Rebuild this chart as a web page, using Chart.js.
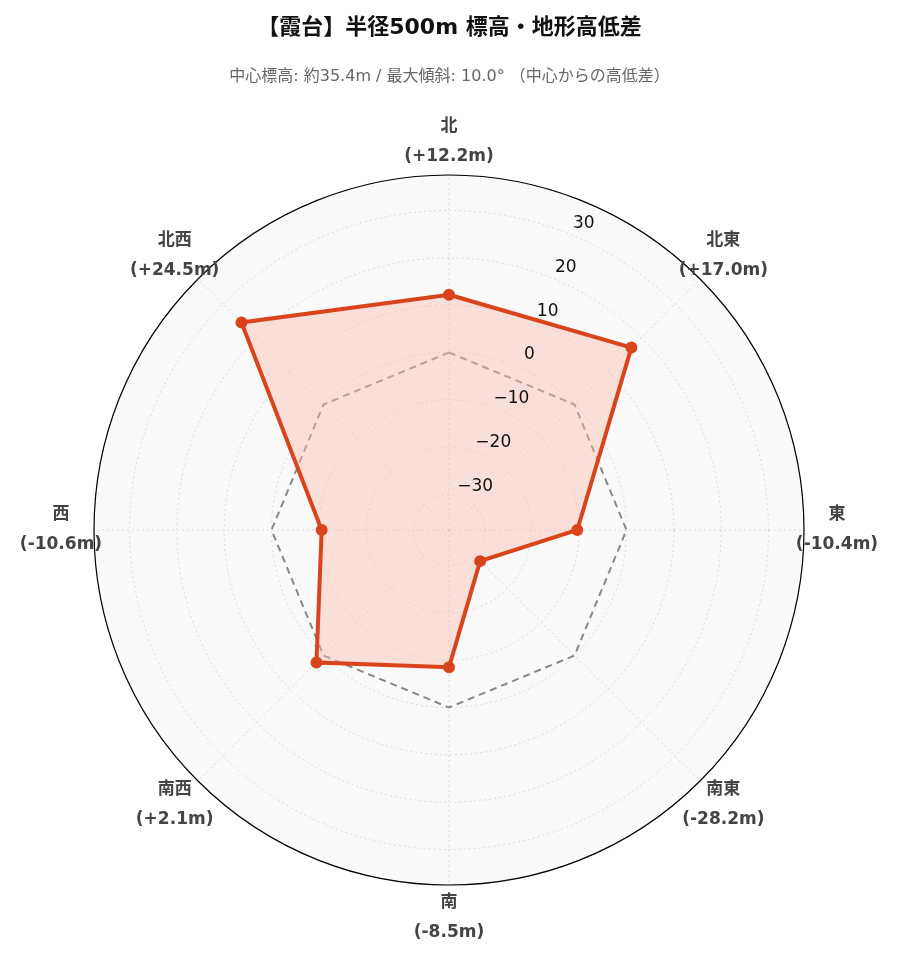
<!DOCTYPE html>
<html>
<head>
<meta charset="utf-8">
<script src="https://cdn.jsdelivr.net/npm/chart.js@4"></script>
<style>
  body { margin: 0; background: #fff; }
  #wrap { width: 899px; height: 962px; }
</style>
</head>
<body>
<div id="wrap"><canvas id="radarChart"></canvas></div>
<script>
const directions = ["北", "北東", "東", "南東", "南", "南西", "西", "北西"];
const diffLabels = ["(+12.2m)", "(+17.0m)", "(-10.4m)", "(-28.2m)", "(-8.5m)", "(+2.1m)", "(-10.6m)", "(+24.5m)"];
const elevationDiff = [12.2, 17.0, -10.4, -28.2, -8.5, 2.1, -10.6, 24.5];
const baseline = [0, 0, 0, 0, 0, 0, 0, 0];
const tickValues = [-37.5, -30, -20, -10, 0, 10, 20, 30, 37.5];
const titleText = "【霞台】半径500m 標高・地形高低差";
const subtitleText = "中心標高: 約35.4m / 最大傾斜: 10.0° （中心からの高低差）";

const FONT = "'DejaVu Sans', 'Noto Sans CJK JP', sans-serif";

// background disc, outer ring, titles, direction labels, tick labels
const decoPlugin = {
  id: "decoPlugin",
  beforeDraw(chart) {
    const s = chart.scales.r;
    const ctx = chart.ctx;
    ctx.save();
    ctx.beginPath();
    ctx.arc(s.xCenter, s.yCenter, s.drawingArea, 0, Math.PI * 2);
    ctx.fillStyle = "#fafafa";
    ctx.fill();
    ctx.restore();
  },
  afterDraw(chart) {
    const s = chart.scales.r;
    const ctx = chart.ctx;
    ctx.save();
    ctx.beginPath();
    ctx.arc(s.xCenter, s.yCenter, s.drawingArea, 0, Math.PI * 2);
    ctx.strokeStyle = "#000";
    ctx.lineWidth = 1.2;
    ctx.stroke();

    ctx.textAlign = "center";
    ctx.textBaseline = "middle";
    ctx.fillStyle = "#111";
    ctx.font = "bold 22px " + FONT;
    ctx.fillText(titleText, chart.width / 2, 28);
    ctx.fillStyle = "#666";
    ctx.font = "16px " + FONT;
    ctx.fillText(subtitleText, chart.width / 2, 77);

    // direction labels
    ctx.fillStyle = "#444";
    ctx.font = "bold 17px " + FONT;
    directions.forEach((d, i) => {
      const p = s.getPointPosition(i, s.drawingArea + 33);
      ctx.fillText(d, p.x, p.y - 15);
      ctx.fillText(diffLabels[i], p.x, p.y + 15);
    });

    // radial tick labels, along a ray between 北 and 北東
    ctx.fillStyle = "#111";
    ctx.font = "17px " + FONT;
    const ang = 22.5 * Math.PI / 180;
    tickValues.filter(v => Math.abs(v) !== 37.5).forEach(v => {
      const r = s.getDistanceFromCenterForValue(v) + 12;
      const txt = v < 0 ? "−" + Math.abs(v) : String(v);
      ctx.fillText(txt, s.xCenter + r * Math.sin(ang) + 8, s.yCenter - r * Math.cos(ang));
    });
    ctx.restore();
  }
};

new Chart(document.getElementById("radarChart"), {
  type: "radar",
  data: {
    labels: directions,
    datasets: [{
      data: elevationDiff,
      borderColor: "#d9441c",
      backgroundColor: "rgba(250, 190, 175, 0.45)",
      borderWidth: 4,
      pointRadius: 4,
      pointBackgroundColor: "#d9441c",
      pointBorderColor: "#d9441c",
      fill: "start"
    }, {
      data: baseline,
      borderColor: "#888",
      borderWidth: 2,
      borderDash: [7, 5],
      pointRadius: 0,
      fill: false
    }]
  },
  options: {
    responsive: true,
    maintainAspectRatio: false,
    animation: false,
    layout: { padding: { top: 175, bottom: 77, left: 94, right: 95 } },
    plugins: {
      legend: { display: false },
      tooltip: { enabled: false }
    },
    scales: {
      r: {
        min: -37.5,
        max: 37.5,
        afterBuildTicks(scale) {
          scale.ticks = tickValues.map(v => ({ value: v }));
        },
        ticks: { display: false },
        grid: { circular: true, color: "#d8d8d8", lineWidth: 1 },
        border: { dash: [2, 3] },
        angleLines: { color: "#d8d8d8", borderDash: [2, 3] },
        pointLabels: { display: false }
      }
    }
  },
  plugins: [decoPlugin]
});
</script>
</body>
</html>
